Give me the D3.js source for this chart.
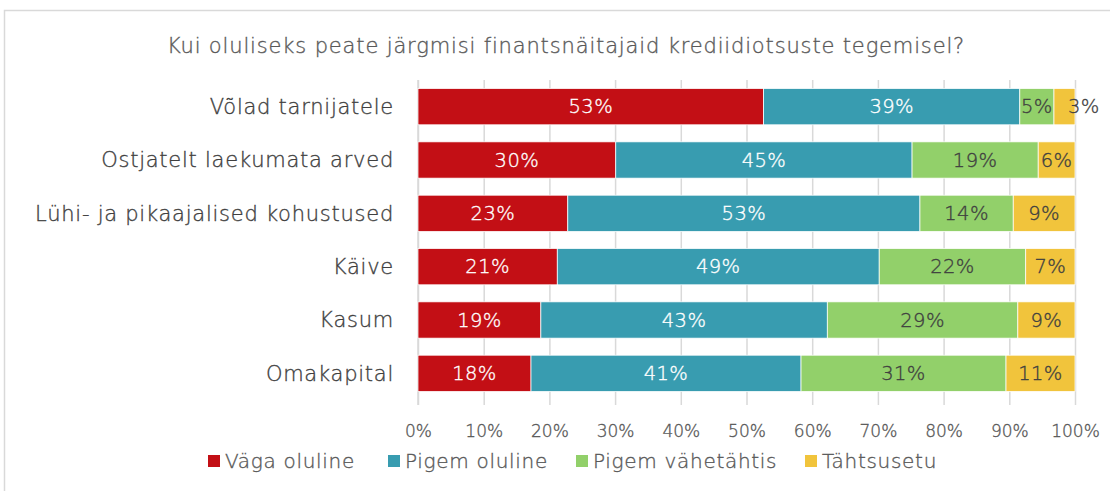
<!DOCTYPE html>
<html>
<head>
<meta charset="utf-8">
<script src="https://cdn.jsdelivr.net/npm/d3@7"></script>
<style>
  body { margin: 0; background: #fff; }
  text { font-family: "Century Gothic", "DejaVu Sans", sans-serif; font-weight: 200; stroke-width: 0.35px; }
</style>
</head>
<body>
<div class="chart"></div>
<script>
// data
const categories = ["Võlad tarnijatele", "Ostjatelt laekumata arved", "Lühi- ja pikaajalised kohustused", "Käive", "Kasum", "Omakapital"]
const seriesNames = ["Väga oluline", "Pigem oluline", "Pigem vähetähtis", "Tähtsusetu"]
const vagaOluline = [52.6, 30.1, 22.8, 21.2, 18.7, 17.2]
const pigemOluline = [39.0, 45.1, 53.6, 49.0, 43.6, 41.1]
const pigemVahetahtis = [5.2, 19.2, 14.2, 22.3, 29.0, 31.2]
const tahtsusetu = [3.2, 5.6, 9.4, 7.5, 8.7, 10.5]
const labels = [
  ["53%", "30%", "23%", "21%", "19%", "18%"],
  ["39%", "45%", "53%", "49%", "43%", "41%"],
  ["5%", "19%", "14%", "22%", "29%", "31%"],
  ["3%", "6%", "9%", "7%", "9%", "11%"]
]
const xTicks = [0, 0.1, 0.2, 0.3, 0.4, 0.5, 0.6, 0.7, 0.8, 0.9, 1]
const colors = ["#C30F15", "#389CB0", "#92D06A", "#F1C43C"]
const labelColors = ["#fff", "#fff", "#404040", "#404040"]

const W = 1110, H = 491
var margin = {top: 80, right: 35, bottom: 91, left: 418};
var width = W - margin.left - margin.right,
    height = H - margin.top - margin.bottom

const root = d3.select(".chart").append("svg")
    .attr("width", W)
    .attr("height", H)

// chart frame
root.append("rect")
    .attr("x", 4.5).attr("y", 10.5)
    .attr("width", W).attr("height", H)
    .attr("fill", "#fff")
    .attr("stroke", "#d9d9d9")
    .attr("stroke-width", 1.5)

root.append("text")
    .attr("x", 566).attr("y", 53)
    .attr("text-anchor", "middle")
    .attr("fill", "#595959").attr("stroke", "#595959")
    .style("font-size", "21px")
    .style("letter-spacing", "0.85px")
    .text("Kui oluliseks peate järgmisi finantsnäitajaid krediidiotsuste tegemisel?")

const svg = root.append("g")
    .attr("transform", "translate(" + margin.left + "," + margin.top + ")");

const rows = categories.map((c, i) => ({
  cat: c,
  s0: vagaOluline[i] / 100, s1: pigemOluline[i] / 100,
  s2: pigemVahetahtis[i] / 100, s3: tahtsusetu[i] / 100
}))
const stacked = d3.stack().keys(["s0", "s1", "s2", "s3"])(rows)

const xScale = d3.scaleLinear().domain([0, 1]).range([0, width])
const yScale = d3.scaleBand().domain(categories).range([0, height]).paddingInner(0.32).paddingOuter(0.16)

// gridlines + ticks below
const xAxis = d3.axisBottom(xScale)
    .tickValues(xTicks)
    .tickFormat(d3.format(".0%"))
    .tickSize(-height - 5)
    .tickPadding(20)

const gx = svg.append("g")
    .attr("class", "axis x-axis")
    .attr("transform", `translate(0, ${height + 5})`)
    .call(xAxis)
gx.select(".domain").remove()
gx.selectAll(".tick line").attr("stroke", "#d9d9d9").attr("stroke-width", 1.5)
gx.selectAll(".tick text")
    .attr("fill", "#595959").attr("stroke", "#595959")
    .style("font-size", "17px")
    .style("font-family", "\"Century Gothic\", \"DejaVu Sans\", sans-serif")

// left axis line
svg.append("line")
    .attr("x1", 0).attr("x2", 0)
    .attr("y1", 0).attr("y2", height + 5)
    .attr("stroke", "#d9d9d9").attr("stroke-width", 1.5)

const groups = svg.selectAll(".series")
    .data(stacked)
    .enter().append("g")
    .attr("class", "series")
    .attr("fill", (d, i) => colors[i])

groups.selectAll("rect")
    .data(d => d.map(v => ({v: v, cat: v.data.cat})))
    .enter().append("rect")
    .attr("x", d => xScale(d.v[0]))
    .attr("y", d => yScale(d.cat))
    .attr("width", d => xScale(d.v[1]) - xScale(d.v[0]))
    .attr("height", yScale.bandwidth())
    .attr("stroke", "#fff")
    .attr("stroke-width", 0.75)

stacked.forEach((s, si) => {
  svg.selectAll(".lbl" + si)
    .data(s)
    .enter().append("text")
    .attr("class", "lbl" + si)
    .attr("fill", labelColors[si]).attr("stroke", labelColors[si])
    .style("font-size", "19.5px")
    .style("letter-spacing", "0.4px")
    .attr("dy", "0.35em")
    .attr("y", d => yScale(d.data.cat) + yScale.bandwidth() / 2)
    .text((d, i) => labels[si][i])
    .each(function(d) {
      const x0 = xScale(d[0]), x1 = xScale(d[1])
      const tw = this.getComputedTextLength()
      const t = d3.select(this)
      if (tw > x1 - x0 + 8) {
        t.attr("x", x0 + 14).attr("text-anchor", "start")
      } else {
        t.attr("x", (x0 + x1) / 2).attr("text-anchor", "middle")
      }
    })
})

// category labels
svg.selectAll(".cat")
    .data(categories)
    .enter().append("text")
    .attr("class", "cat")
    .attr("x", -24)
    .attr("y", d => yScale(d) + yScale.bandwidth() / 2)
    .attr("dy", "0.35em")
    .attr("text-anchor", "end")
    .attr("fill", "#404040").attr("stroke", "#404040")
    .style("font-size", "21px")
    .style("letter-spacing", "0.75px")
    .text(d => d)

// legend
const legendX = [208, 388, 576, 805]
const legend = root.append("g").attr("class", "legend")
seriesNames.forEach((n, i) => {
  legend.append("rect")
    .attr("x", legendX[i]).attr("y", 455)
    .attr("width", 12).attr("height", 12)
    .attr("fill", colors[i])
  legend.append("text")
    .attr("x", legendX[i] + 17).attr("y", 461)
    .attr("dy", "0.35em")
    .attr("fill", "#595959").attr("stroke", "#595959")
    .style("font-size", "20px")
    .style("letter-spacing", "0.7px")
    .text(n)
})
</script>
</body>
</html>
